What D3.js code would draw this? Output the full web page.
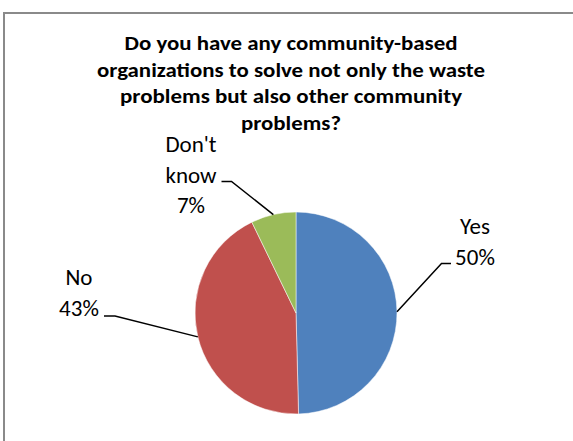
<!DOCTYPE html>
<html>
<head>
<meta charset="utf-8">
<script src="https://cdn.jsdelivr.net/npm/d3@7"></script>
<style>
    html, body { margin: 0; padding: 0; background: #fff; }
    svg { display: block; }
    text { font-family: Calibri, Carlito, Lato, sans-serif; fill: #000; }
</style>
</head>
<body>
<script>
"use strict";

// chart data
var categories = ["Yes", "No", "Don't know"];
var values = [49.6, 43.2, 7.2];
var colors = ["#4F81BD", "#C0504D", "#9BBB59"];
var titleLines = [
    "Do you have any community-based",
    "organizations to solve not only the waste",
    "problems but also other community",
    "problems?"
];

// title line widths, to match the narrow original face
var titleWidths = [333, 388, 342, 100];

// where each data label sits (label centre x, first baseline y, leader elbow)
var labelLayout = {
    "Yes":        { x: 475, y: 234, lines: ["Yes"], elbow: [441.5, 263.5], end: [451, 263.5] },
    "No":         { x: 79,  y: 285, lines: ["No"], elbow: [115, 316], end: [104, 316] },
    "Don't know": { x: 191, y: 152, lines: ["Don't", "know"], elbow: [231.5, 181.5], end: [221.5, 181.5] }
};

function init() {
    var w = 573;
    var h = 441;
    var cx = 296, cy = 313, r = 101;

    var svg = d3.select("body")
        .append("svg")
        .attr("width", w)
        .attr("height", h);

    // chart frame (runs off the right and bottom of the picture)
    svg.append("rect")
        .attr("x", 4)
        .attr("y", 13)
        .attr("width", w + 20)
        .attr("height", h + 20)
        .attr("fill", "none")
        .attr("stroke", "#8a8a8a")
        .attr("stroke-width", 2);

    // title
    svg.append("g")
        .selectAll("text")
        .data(titleLines)
        .enter()
        .append("text")
        .attr("x", 291)
        .attr("y", function (d, i) { return 50 + i * 26.5; })
        .attr("text-anchor", "middle")
        .attr("font-size", 21)
        .attr("font-weight", "bold")
        .attr("textLength", function (d, i) { return titleWidths[i]; })
        .attr("lengthAdjust", "spacingAndGlyphs")
        .text(function (d) { return d; });

    var data = categories.map(function (c, i) {
        return { name: c, value: values[i], color: colors[i] };
    });
    var total = d3.sum(values);

    var pie = d3.pie()
        .sort(null)
        .value(function (d) { return d.value; });

    var arc = d3.arc()
        .innerRadius(0)
        .outerRadius(r);

    // centroid of this arc lands on the pie edge: start of each leader line
    var edge = d3.arc()
        .innerRadius(r * 2)
        .outerRadius(0);

    var g = svg.append("g")
        .attr("transform", "translate(" + cx + "," + cy + ")");

    var arcs = pie(data);

    //Create slices
    g.selectAll("path")
        .data(arcs)
        .enter()
        .append("path")
        .attr("d", arc)
        .attr("fill", function (d) { return d.data.color; })
        .attr("stroke", "#fff")
        .attr("stroke-width", 0.5);

    //Leader lines
    svg.append("g")
        .selectAll("polyline")
        .data(arcs)
        .enter()
        .append("polyline")
        .attr("points", function (d) {
            var c = edge.centroid(d);
            var L = labelLayout[d.data.name];
            return [[cx + c[0], cy + c[1]], L.elbow, L.end].join(" ");
        })
        .attr("fill", "none")
        .attr("stroke", "#000")
        .attr("stroke-width", 1.5);

    //Data labels
    var labels = svg.append("g")
        .selectAll("text")
        .data(arcs)
        .enter()
        .append("text")
        .attr("text-anchor", "middle")
        .attr("font-size", 23);

    labels.each(function (d) {
        var L = labelLayout[d.data.name];
        var lines = L.lines.concat([Math.round(d.data.value / total * 100) + "%"]);
        var t = d3.select(this);
        lines.forEach(function (s, i) {
            t.append("tspan")
                .attr("x", L.x)
                .attr("y", L.y + i * 30.5)
                .text(s);
        });
    });
}

window.onload = init;
</script>
</body>
</html>
